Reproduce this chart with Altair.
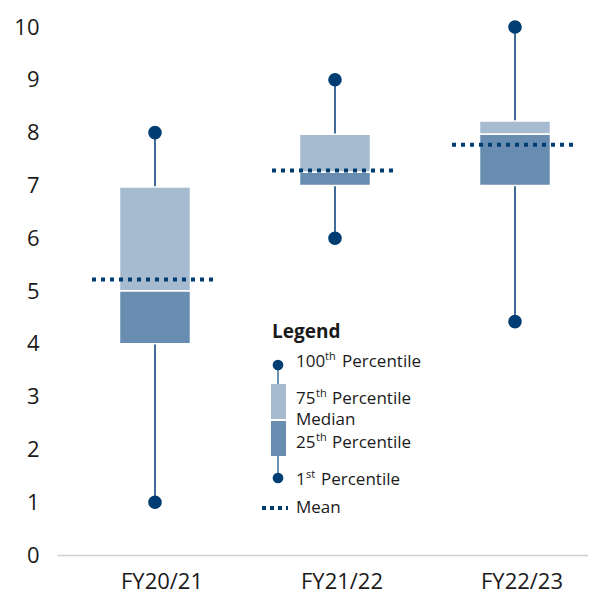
import altair as alt
import pandas as pd

categories = ["FY20/21", "FY21/22", "FY22/23"]
p1 = [1.0, 6.0, 4.42]
p25 = [4.0, 7.0, 7.0]
p50 = [5.0, 7.25, 7.97]
p75 = [6.97, 7.97, 8.22]
p100 = [8.0, 9.0, 10.0]
means = [5.22, 7.28, 7.77]
y_ticks = list(range(0, 11))

df = pd.DataFrame({"cat": categories, "p1": p1, "p25": p25, "p50": p50,
                   "p75": p75, "p100": p100, "mean": means})
one = pd.DataFrame({"k": [0]})

FONT = "Open Sans"
NAVY = "#003d73"
WHISK = "#3f6d98"
LIGHT = "#a6bbcf"
DARK = "#688db0"
TXT = "#1a1a1a"

W, H = 531, 528

xenc = alt.X("cat:N", sort=categories,
             scale=alt.Scale(range=[0, 556], paddingInner=0, paddingOuter=0.0444),
             axis=alt.Axis(title=None, labelAngle=0, labelFontSize=22, labelFont=FONT,
                           labelColor=TXT, labelPadding=16, labelOffset=7, ticks=False,
                           grid=False, domainColor="#cfcfcf", domainWidth=1.5))
yscale = alt.Scale(domain=[0, 10], nice=False)
yaxis = alt.Axis(title=None, values=y_ticks, grid=False, domain=False,
                 ticks=False, labelFontSize=22, labelFont=FONT,
                 labelColor=TXT, labelPadding=18)


def yq(field):
    return alt.Y(f"{field}:Q", scale=yscale, axis=yaxis)


base = alt.Chart(df)
whisk = base.mark_rule(color=WHISK, strokeWidth=2).encode(x=xenc, y=yq("p1"), y2="p100:Q")
upper = base.mark_bar(size=71, color=LIGHT, stroke="white", strokeWidth=1.5).encode(
    x=xenc, y=yq("p50"), y2="p75:Q")
lower = base.mark_bar(size=71, color=DARK, stroke="white", strokeWidth=1.5).encode(
    x=xenc, y=yq("p25"), y2="p50:Q")
top_dot = base.mark_circle(size=185, color=NAVY, opacity=1).encode(x=xenc, y=yq("p100"))
bot_dot = base.mark_circle(size=185, color=NAVY, opacity=1).encode(x=xenc, y=yq("p1"))
mean_line = base.mark_rule(color=NAVY, strokeWidth=4, strokeDash=[4, 5], strokeCap="butt",
                           xOffset=-63, x2Offset=63).encode(x=xenc, x2="cat:N", y=yq("mean"))


def txt(s, x, y, size=17, weight="normal"):
    return alt.Chart(one).mark_text(text=s, align="left", baseline="middle", font=FONT,
                                    fontSize=size, fontWeight=weight, color=TXT).encode(
        x=alt.value(x), y=alt.value(y))


leg = [
    txt("Legend", 215, 305, 19, "bold"),
    alt.Chart(one).mark_rule(color=WHISK, strokeWidth=1.5).encode(
        x=alt.value(221), y=alt.value(338), y2=alt.value(357)),
    alt.Chart(one).mark_rule(color=WHISK, strokeWidth=1.5).encode(
        x=alt.value(221), y=alt.value(429), y2=alt.value(451)),
    alt.Chart(one).mark_rect(color=LIGHT).encode(
        x=alt.value(214), x2=alt.value(229), y=alt.value(357), y2=alt.value(392)),
    alt.Chart(one).mark_rect(color=DARK).encode(
        x=alt.value(214), x2=alt.value(229), y=alt.value(394), y2=alt.value(429)),
    alt.Chart(one).mark_circle(size=115, color=NAVY, opacity=1).encode(
        x=alt.value(221), y=alt.value(338)),
    alt.Chart(one).mark_circle(size=115, color=NAVY, opacity=1).encode(
        x=alt.value(221), y=alt.value(451)),
    alt.Chart(one).mark_rule(color=NAVY, strokeWidth=4, strokeDash=[4, 4], strokeCap="butt").encode(
        x=alt.value(205), x2=alt.value(231), y=alt.value(481)),
    txt("100", 239, 335), txt("th", 268, 330, 11), txt("Percentile", 285, 335),
    txt("75", 239, 372), txt("th", 259, 367, 11), txt("Percentile", 275, 372),
    txt("Median", 239, 393),
    txt("25", 239, 416), txt("th", 259, 411, 11), txt("Percentile", 275, 416),
    txt("1", 239, 453), txt("st", 249, 448, 11), txt("Percentile", 264, 453),
    txt("Mean", 239, 481),
]

chart = alt.layer(whisk, upper, lower, top_dot, bot_dot, mean_line, *leg).properties(
    width=W, height=H,
    autosize=alt.AutoSizeParams(type="none"),
    padding={"left": 49, "top": 19, "right": 0, "bottom": 39},
).configure(font=FONT).configure_view(strokeWidth=0, stroke="transparent").configure_axisY(
    domain=False, grid=False, ticks=False)

chart.save("out.html", embed_options={"renderer": "svg", "actions": False})
